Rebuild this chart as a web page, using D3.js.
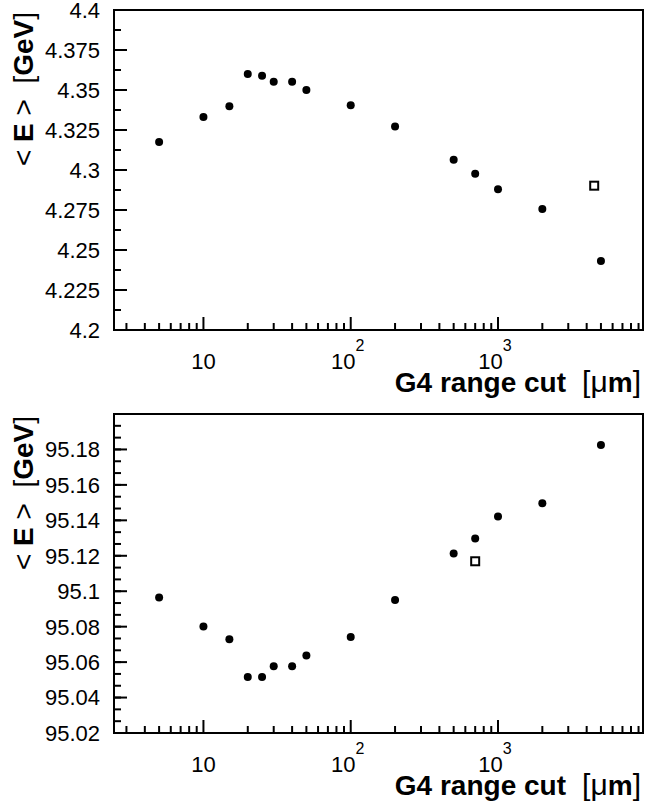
<!DOCTYPE html>
<meta charset="utf-8">
<style>
body { margin: 0; background: #fff; }
svg text { font-family: "Liberation Sans", Arial, sans-serif; white-space: pre; }
</style>
<svg width="645" height="805"></svg>
<script src="https://cdn.jsdelivr.net/npm/d3@7"></script>
<script>

// G4 range cut values (um)
var cuts = [5, 10, 15, 20, 25, 30, 40, 50, 100, 200, 500, 700, 1000, 2000, 5000];
// <E> upper panel (GeV)
var eLow = [4.3175, 4.3331, 4.3398, 4.3600, 4.3589, 4.3552, 4.3552, 4.3500, 4.3404,
            4.3272, 4.3064, 4.2977, 4.2879, 4.2756, 4.2431];
var refLowCut = [4500], refLow = [4.2902];
// <E> lower panel (GeV)
var eHigh = [95.0964, 95.0801, 95.0729, 95.0516, 95.0516, 95.0576, 95.0576, 95.0638, 95.0742,
             95.0950, 95.1213, 95.1298, 95.1422, 95.1497, 95.1825];
var refHighCut = [700], refHigh = [95.1169];

var yTicksLow = [4.2, 4.225, 4.25, 4.275, 4.3, 4.325, 4.35, 4.375, 4.4];
var yLabelsLow = ["4.2", "4.225", "4.25", "4.275", "4.3", "4.325", "4.35", "4.375", "4.4"];
var yTicksHigh = [95.02, 95.04, 95.06, 95.08, 95.1, 95.12, 95.14, 95.16, 95.18];
var yLabelsHigh = ["95.02", "95.04", "95.06", "95.08", "95.1", "95.12", "95.14", "95.16", "95.18"];
var xMajor = [10, 100, 1000];
var xExp = ["", "2", "3"];

var svg = d3.select("svg");
var left = 114, right = 643;

var x = d3.scaleLog().domain([2.47, 9650]).range([left, right]);

function panel(top, bottom, ydom, yTicks, yLabels, nMinor, vals, refCut, refVals) {
  var y = d3.scaleLinear().domain(ydom).range([bottom, top]);
  var g = svg.append("g");

  // minor y ticks
  var step = (yTicks[1] - yTicks[0]) / nMinor;
  var minorY = d3.range(0, Math.round((ydom[1] - ydom[0]) / step) + 1).map(function(i) { return ydom[0] + i * step; });
  g.selectAll(".ymin").data(minorY).enter().append("line")
    .attr("x1", left).attr("x2", left + 7)
    .attr("y1", function(d) { return y(d); }).attr("y2", function(d) { return y(d); })
    .attr("stroke", "#000").attr("stroke-width", 2);
  g.selectAll(".ymaj").data(yTicks).enter().append("line")
    .attr("x1", left).attr("x2", left + 13)
    .attr("y1", function(d) { return y(d); }).attr("y2", function(d) { return y(d); })
    .attr("stroke", "#000").attr("stroke-width", 2);
  g.selectAll(".ylab").data(yTicks).enter().append("text")
    .attr("x", 100).attr("y", function(d) { return y(d); })
    .attr("dy", "0.36em").attr("text-anchor", "end")
    .attr("font-size", 22)
    .text(function(d, i) { return yLabels[i]; });

  // x ticks
  var minorX = [];
  [1, 10, 100, 1000].forEach(function(dec) {
    for (var k = 2; k <= 9; k++) {
      var v = dec * k;
      if (v >= x.domain()[0] && v <= x.domain()[1]) minorX.push(v);
    }
  });
  g.selectAll(".xmin").data(minorX).enter().append("line")
    .attr("x1", function(d) { return x(d); }).attr("x2", function(d) { return x(d); })
    .attr("y1", bottom).attr("y2", bottom - 7)
    .attr("stroke", "#000").attr("stroke-width", 2);
  g.selectAll(".xmaj").data(xMajor).enter().append("line")
    .attr("x1", function(d) { return x(d); }).attr("x2", function(d) { return x(d); })
    .attr("y1", bottom).attr("y2", bottom - 13)
    .attr("stroke", "#000").attr("stroke-width", 2);

  var xl = g.selectAll(".xlab").data(xMajor).enter().append("text")
    .attr("x", function(d, i) { return x(d) - (i ? 3 : 0); })
    .attr("y", bottom + 39)
    .attr("text-anchor", "middle")
    .attr("font-size", 22);
  xl.append("tspan").text("10");
  xl.append("tspan").attr("dy", -18).attr("font-size", 16)
    .text(function(d, i) { return xExp[i]; });

  // frame
  g.append("rect")
    .attr("x", left).attr("y", top)
    .attr("width", right - left).attr("height", bottom - top)
    .attr("fill", "none").attr("stroke", "#000").attr("stroke-width", 2);

  // points
  g.selectAll(".pt").data(cuts).enter().append("circle")
    .attr("cx", function(d) { return x(d); })
    .attr("cy", function(d, i) { return y(vals[i]); })
    .attr("r", 4).attr("fill", "#000");
  g.selectAll(".ref").data(refCut).enter().append("rect")
    .attr("x", function(d) { return x(d) - 4; })
    .attr("y", function(d, i) { return y(refVals[i]) - 4; })
    .attr("width", 8).attr("height", 8)
    .attr("fill", "#fff").attr("stroke", "#000").attr("stroke-width", 2);

  // y title
  var yt = g.append("text")
    .attr("transform", "translate(33," + (top + 2) + ") rotate(-90)")
    .attr("text-anchor", "end")
    .attr("font-size", 28);
  yt.append("tspan").text("< ");
  yt.append("tspan").attr("font-weight", "bold").text("E");
  yt.append("tspan").text(" >  [");
  yt.append("tspan").attr("font-weight", "bold").text("GeV");
  yt.append("tspan").text("]");

  // x title
  var xt = g.append("text")
    .attr("x", 641).attr("y", bottom + 62)
    .attr("text-anchor", "end")
    .attr("font-size", 28);
  xt.append("tspan").attr("font-weight", "bold").text("G4 range cut ");
  xt.append("tspan").attr("font-size", 30).text(" [\u03bc");
  xt.append("tspan").attr("font-weight", "bold").text("m");
  xt.append("tspan").attr("font-size", 30).text("]");
}

panel(10, 330, [4.2, 4.4], yTicksLow, yLabelsLow, 2, eLow, refLowCut, refLow);
panel(414, 733, [95.02, 95.2], yTicksHigh, yLabelsHigh, 3, eHigh, refHighCut, refHigh);

</script>
